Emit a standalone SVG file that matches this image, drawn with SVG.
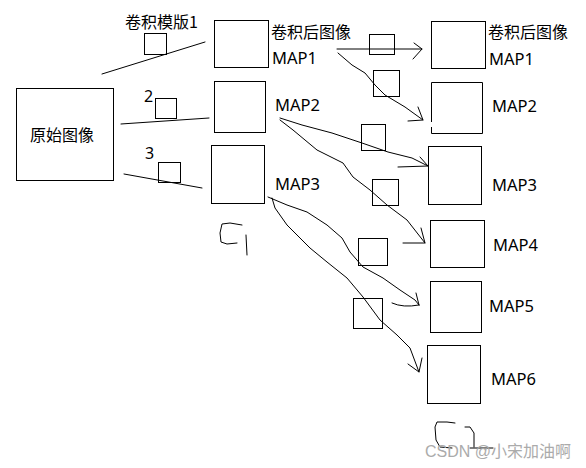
<svg xmlns="http://www.w3.org/2000/svg" width="586" height="468" viewBox="0 0 586 468">
<style>
.box{fill:none;stroke:#000;stroke-width:1}
.k{fill:none;stroke:#000;stroke-width:1}
.ln{fill:none;stroke:#000;stroke-width:1;stroke-linejoin:round;stroke-linecap:round}
.cn{font-family:"Noto Sans CJK SC","Noto Sans",sans-serif;font-size:16px;fill:#000}
.lat{font-family:"Noto Sans","Liberation Sans",sans-serif;font-size:16.5px;fill:#000}
.num{font-family:"Noto Sans","Liberation Sans",sans-serif;font-size:16px;fill:#000}
.wm{font-family:"Liberation Sans","Noto Sans CJK SC",sans-serif;font-size:16px;fill:#ababab}
</style>
<rect width="586" height="468" fill="#fff"/>

<g id="orig">
<rect class="box" x="16.5" y="88.5" width="97" height="92"/>
<text class="cn" x="30" y="141">原始图像</text>
</g>

<g id="c1map1">
<rect class="box" x="214.5" y="20.5" width="54" height="47"/>
<text class="cn" x="271" y="38">卷积后图像</text>
<text class="lat" x="272" y="64">MAP1</text>
</g>
<g id="c1map2">
<rect class="box" x="214.5" y="81.5" width="51" height="51"/>
<text class="lat" x="275" y="111">MAP2</text>
</g>
<g id="c1map3">
<rect class="box" x="211.5" y="145.5" width="53" height="58"/>
<text class="lat" x="275" y="190">MAP3</text>
</g>

<g id="c2map1">
<rect class="box" x="431.5" y="21.5" width="54" height="47"/>
<text class="cn" x="488" y="38">卷积后图像</text>
<text class="lat" x="489" y="65">MAP1</text>
</g>
<g id="c2map2">
<path class="box" d="M431.5,122 V82.5 H482.5 V133.5 H431.5 V127"/>
<text class="lat" x="492" y="112">MAP2</text>
</g>
<g id="c2map3">
<rect class="box" x="428.5" y="146.5" width="53" height="58"/>
<text class="lat" x="492" y="191">MAP3</text>
</g>
<g id="c2map4">
<rect class="box" x="430.5" y="220.5" width="54" height="47"/>
<text class="lat" x="493" y="251">MAP4</text>
</g>
<g id="c2map5">
<rect class="box" x="430.5" y="281.5" width="51" height="51"/>
<text class="lat" x="489" y="312">MAP5</text>
</g>
<g id="c2map6">
<rect class="box" x="427.5" y="345.5" width="53" height="58"/>
<text class="lat" x="491" y="385">MAP6</text>
</g>

<g id="kernels">
<rect class="k" x="144.5" y="33.5" width="22" height="21"/>
<rect class="k" x="155.5" y="98.5" width="21" height="20"/>
<rect class="k" x="158.5" y="162.5" width="22" height="20"/>
<rect class="k" x="369.5" y="34.5" width="25" height="20"/>
<rect class="k" x="373.5" y="70.5" width="26" height="26"/>
<rect class="k" x="361.5" y="124.5" width="24" height="26"/>
<rect class="k" x="372.5" y="179.5" width="26" height="26"/>
<rect class="k" x="358.5" y="238.5" width="29" height="27"/>
<rect class="k" x="353.5" y="298.5" width="29" height="30"/>
</g>

<g id="kernel-labels">
<text class="cn" x="125" y="28">卷积模版1</text>
<text class="num" x="144" y="102">2</text>
<text class="num" x="145" y="159">3</text>
</g>

<g id="connectors">
<path class="ln" d="M102,74 L205,42"/>
<path class="ln" d="M121,124 L209,118"/>
<path class="ln" d="M124,174 L202,188"/>

<path class="ln" d="M337,49 L422,49 M414,43 L422,49 L413,59"/>
<path class="ln" d="M338,53 L352,65 L365,73 L375,85 L385,95 L405,107 L423,120 M418,107 L423,120 L408,121"/>
<path class="ln" d="M280,118 L302,125 L332,133 L362,143 L388,152 L412,158 L428,166 M420,157 L428,166 L398,167"/>
<path class="ln" d="M280,120 L293,130 L317,150 L343,163 L353,177 L370,190 L387,205 L407,220 L425,243 M421,228 L425,243 L403,243"/>
<path class="ln" d="M268,197 L287,205 L307,212 L327,225 L342,238 L350,252 L363,267 L383,278 L400,290 L415,300 L419,305 M416,293 L419,305 M392,303 Q403,308 419,305"/>
<path class="ln" d="M272,198 L275,208 L287,225 L310,248 L327,262 L347,278 L363,297 L380,320 L397,335 L410,348 L419,372 M422,358 L419,372 L408,364"/>
</g>

<g id="scribbles">
<path class="ln" d="M242,225 L230,223 L222,224 L220,233 L221,242 L227,244 L237,243 M246,235 L247,255"/>
<path class="ln" d="M455,423 L447,422 L437,422 L435,427 L436,440 L440,447 L452,448 M465,427 L470,427 L474,433 L474,447 M470,448 L493,448"/>
</g>

<text class="wm" x="425" y="457">CSDN @小宋加油啊</text>
</svg>
